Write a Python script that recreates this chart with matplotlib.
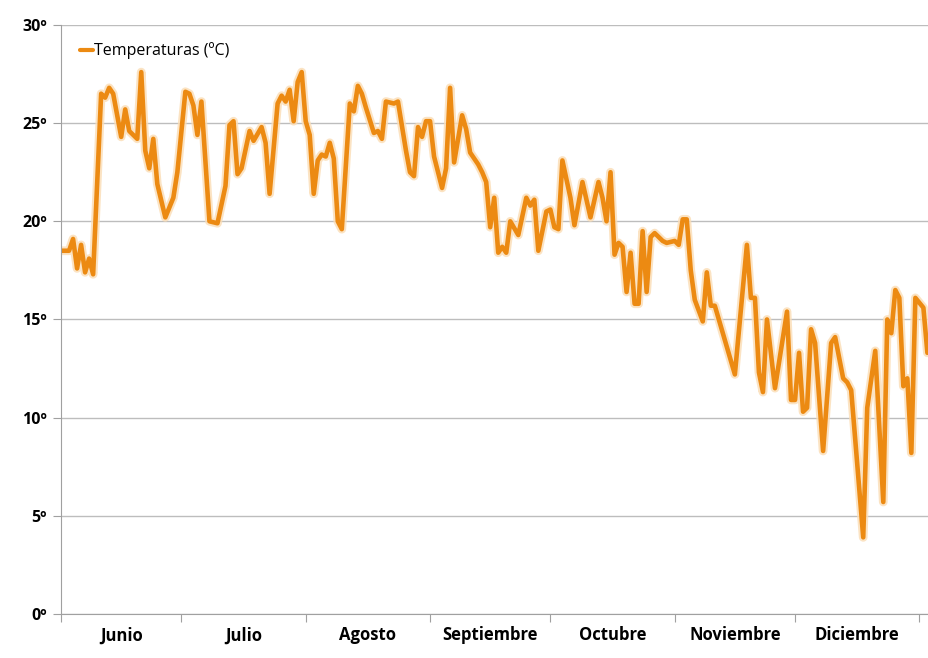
import numpy as np
import matplotlib.pyplot as plt
import matplotlib.patheffects as pe

# dias desde el 1 de junio, temperatura en ºC
dias = [0, 2, 3, 4, 5, 6, 7, 8, 10, 11, 12, 13, 15, 16, 17, 19, 20, 21, 22, 23,
        24, 26, 28, 29, 31, 32, 33, 34, 35, 37, 39, 41, 42, 43, 44, 45, 47, 48,
        50, 51, 52, 54, 55, 56, 57, 58, 59, 60, 61, 62, 63, 64, 65, 66, 67, 68,
        69, 70, 72, 73, 74, 75, 76, 78, 79, 80, 81, 83, 84, 86, 87, 88, 89, 90,
        91, 92, 93, 95, 96, 97, 98, 100, 101, 102, 104, 105, 106, 107, 108, 109,
        110, 111, 112, 114, 116, 117, 118, 119, 121, 122, 123, 124, 125, 127,
        128, 130, 132, 134, 135, 136, 137, 138, 139, 140, 141, 142, 143, 144,
        145, 146, 147, 148, 150, 151, 153, 154, 155, 156, 157, 158, 160, 161,
        162, 163, 168, 171, 172, 173, 174, 175, 176, 178, 181, 182, 183, 184,
        185, 186, 187, 188, 190, 192, 193, 195, 196, 197, 200, 201, 203, 205,
        206, 207, 208, 209, 210, 211, 212, 213, 215, 216]
temps = [18.5, 18.5, 19.1, 17.6, 18.8, 17.4, 18.1, 17.3, 26.5, 26.3, 26.8, 26.5,
         24.3, 25.7, 24.6, 24.2, 27.6, 23.6, 22.7, 24.2, 21.9, 20.2, 21.2, 22.5,
         26.6, 26.5, 25.9, 24.4, 26.1, 20.0, 19.9, 21.8, 24.9, 25.1, 22.4, 22.7,
         24.6, 24.1, 24.8, 24.0, 21.4, 26.0, 26.4, 26.1, 26.7, 25.1, 27.1, 27.6,
         25.1, 24.4, 21.4, 23.1, 23.4, 23.3, 24.0, 23.2, 20.0, 19.6, 26.0, 25.6,
         26.9, 26.5, 25.8, 24.5, 24.6, 24.2, 26.1, 26.0, 26.1, 23.6, 22.5, 22.3,
         24.8, 24.3, 25.1, 25.1, 23.3, 21.7, 22.7, 26.8, 23.0, 25.4, 24.7, 23.5,
         22.9, 22.5, 22.0, 19.7, 21.2, 18.4, 18.7, 18.4, 20.0, 19.3, 21.2, 20.8,
         21.1, 18.5, 20.5, 20.6, 19.7, 19.6, 23.1, 21.2, 19.8, 22.0, 20.2, 22.0,
         21.2, 20.0, 22.5, 18.3, 18.9, 18.7, 16.4, 18.4, 15.8, 15.8, 19.5, 16.4,
         19.2, 19.4, 19.0, 18.9, 19.0, 18.8, 20.1, 20.1, 17.5, 16.0, 14.9, 17.4,
         15.7, 15.7, 12.2, 18.8, 16.1, 16.1, 12.3, 11.3, 15.0, 11.5, 15.4, 10.9,
         10.9, 13.3, 10.3, 10.5, 14.5, 13.8, 8.3, 13.8, 14.1, 12.0, 11.8, 11.4,
         3.9, 10.5, 13.4, 5.7, 15.0, 14.3, 16.5, 16.1, 11.6, 12.0, 8.2, 16.1,
         15.6, 13.3]

meses = ['Junio', 'Julio', 'Agosto', 'Septiembre', 'Octubre', 'Noviembre', 'Diciembre']
inicio_mes = [0, 30, 61, 92, 122, 153, 183, 214]

naranja = '#EC8A12'

fig = plt.figure(figsize=(9.29, 6.58), dpi=100)
ax = fig.add_axes([0.0657, 0.067, 0.9343, 0.895])

ax.plot(dias, temps, color=naranja, lw=3.3, solid_joinstyle='round',
        solid_capstyle='round', label='Temperaturas (ºC)',
        path_effects=[pe.Stroke(linewidth=6.3, foreground='#FBDDB5', alpha=0.8,
                                joinstyle='round', capstyle='round'),
                      pe.Normal()])

ax.set_ylim(0, 30)
ax.set_xlim(0, 216.4)
ax.set_yticks(range(0, 31, 5))
ax.set_yticklabels(['%dº' % v for v in range(0, 31, 5)], fontweight='bold',
                   fontsize=11.5, family='Open Sans')
ax.set_xticks(inicio_mes)
ax.set_xticklabels([])
ax.set_xticks([(inicio_mes[i] + inicio_mes[i+1]) / 2 for i in range(7)], minor=True)
ax.set_xticklabels(meses, minor=True, fontweight='bold', fontsize=12, family='Open Sans')
ax.tick_params(axis='x', which='minor', length=0, pad=9)
ax.tick_params(axis='x', which='major', length=6, color='#A0A0A0')
ax.tick_params(axis='y', length=6, color='#A0A0A0', pad=4)

ax.grid(axis='y', color='#BDBDBD', lw=1)
ax.set_axisbelow(True)
for s in ['top', 'right']:
    ax.spines[s].set_visible(False)
for s in ['left', 'bottom']:
    ax.spines[s].set_color('#A0A0A0')

leg = ax.legend(loc='upper left', frameon=False, handlelength=0.8, handletextpad=0.1,
                prop={'family': 'Open Sans', 'size': 11.5}, bbox_to_anchor=(0.005, 0.995))
for h in leg.get_lines():
    h.set_path_effects([])
    h.set_linewidth(3)

plt.savefig('out.png', dpi=100)
